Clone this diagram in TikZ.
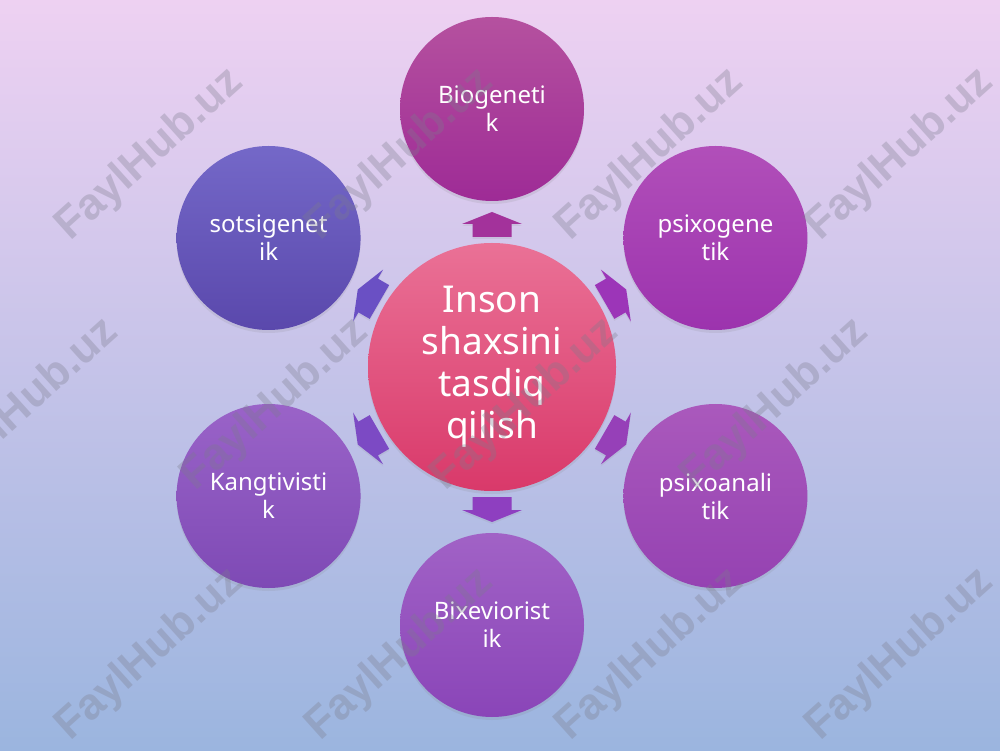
\documentclass[tikz,border=0pt]{standalone}
\usepackage{fontspec}
\setmainfont{Noto Sans}
\newfontfamily\wmfont{Liberation Sans}
\usetikzlibrary{calc,shadows}
\definecolor{bgtop}{HTML}{EED1F2}
\definecolor{bgmid}{HTML}{E0DFF5}
\definecolor{bgbot}{HTML}{9BB5DF}
\definecolor{cTop}{HTML}{EA7196}
\definecolor{cBot}{HTML}{D9396A}
\definecolor{aTop}{HTML}{B5519F}\definecolor{aBot}{HTML}{9E2B96}
\definecolor{bTop}{HTML}{B14FB9}\definecolor{bBot}{HTML}{9C33AE}
\definecolor{dTop}{HTML}{AA59BC}\definecolor{dBot}{HTML}{9542B2}
\definecolor{eTop}{HTML}{A162C6}\definecolor{eBot}{HTML}{8A45B8}
\definecolor{fTop}{HTML}{9A63C8}\definecolor{fBot}{HTML}{7E4AB5}
\definecolor{gTop}{HTML}{7468C8}\definecolor{gBot}{HTML}{5A48AC}
\definecolor{arA}{HTML}{A3329B}
\definecolor{arB}{HTML}{9C35B8}
\definecolor{arD}{HTML}{9640B8}
\definecolor{arE}{HTML}{8E3FC0}
\definecolor{arF}{HTML}{7C4AC4}
\definecolor{arG}{HTML}{6A50C4}
\definecolor{wmgray}{HTML}{7C7C8C}
\tikzset{
  centrebox/.style={circle, minimum size=248pt, inner sep=0pt, align=center,
    text=white, font=\fontsize{37}{42}\selectfont, top color=cTop, bottom color=cBot,
    drop shadow={opacity=0.15, shadow xshift=0pt, shadow yshift=-3pt}},
  outerbox/.style={circle, minimum size=184pt, inner sep=0pt, align=center,
    text=white, font=\fontsize{24}{28}\selectfont,
    drop shadow={opacity=0.15, shadow xshift=0pt, shadow yshift=-3pt}},
  wm/.style={font=\wmfont\bfseries\fontsize{44}{44}\selectfont, text=wmgray,
    text opacity=0.32, rotate=42, inner sep=0pt}
}
\begin{document}
\begin{tikzpicture}[x=1pt,y=1pt]
\useasboundingbox (0,0) rectangle (1000,750);
\shade[top color=bgtop, middle color=bgmid, bottom color=bgbot] (0,0) rectangle (1000,750);

\node[centrebox] (c) at (492,383) {Inson\\shaxsini\\tasdiq\\qilish};
\node[outerbox, top color=aTop, bottom color=aBot] (n1) at ($(c)+(90:258)$) {Biogeneti\\k};
\node[outerbox, top color=bTop, bottom color=bBot] (n2) at ($(c)+(30:258)$) {psixogene\\tik};
\node[outerbox, top color=dTop, bottom color=dBot] (n3) at ($(c)+(-30:258)$) {psixoanali\\tik};
\node[outerbox, top color=eTop, bottom color=eBot] (n4) at ($(c)+(-90:258)$) {Bixeviorist\\ik};
\node[outerbox, top color=fTop, bottom color=fBot] (n5) at ($(c)+(-150:258)$) {Kangtivisti\\k};
\node[outerbox, top color=gTop, bottom color=gBot] (n6) at ($(c)+(150:258)$) {sotsigenet\\ik};

\foreach \ang/\col in {90/arA, 30/arB, -30/arD, -90/arE, -150/arF, 150/arG}{
  \fill[\col, drop shadow={opacity=0.12, shadow xshift=0pt, shadow yshift=-2pt},
        shift={(c.center)}, rotate=\ang]
    (130,-19.5) -- (143,-19.5) -- (143,-30) -- (155,0) -- (143,30) -- (143,19.5) -- (130,19.5) -- cycle;
}

\node[wm] (w1) at (150,595) {FaylHub.uz};
\node[wm] (w2) at (400,595) {FaylHub.uz};
\node[wm] (w3) at (650,595) {FaylHub.uz};
\node[wm] (w4) at (900,595) {FaylHub.uz};
\node[wm] (w5) at (25,345) {FaylHub.uz};
\node[wm] (w6) at (275,345) {FaylHub.uz};
\node[wm] (w7) at (525,345) {FaylHub.uz};
\node[wm] (w8) at (775,345) {FaylHub.uz};
\node[wm] (w9) at (150,95) {FaylHub.uz};
\node[wm] (w10) at (400,95) {FaylHub.uz};
\node[wm] (w11) at (650,95) {FaylHub.uz};
\node[wm] (w12) at (900,95) {FaylHub.uz};
\end{tikzpicture}
\end{document}
